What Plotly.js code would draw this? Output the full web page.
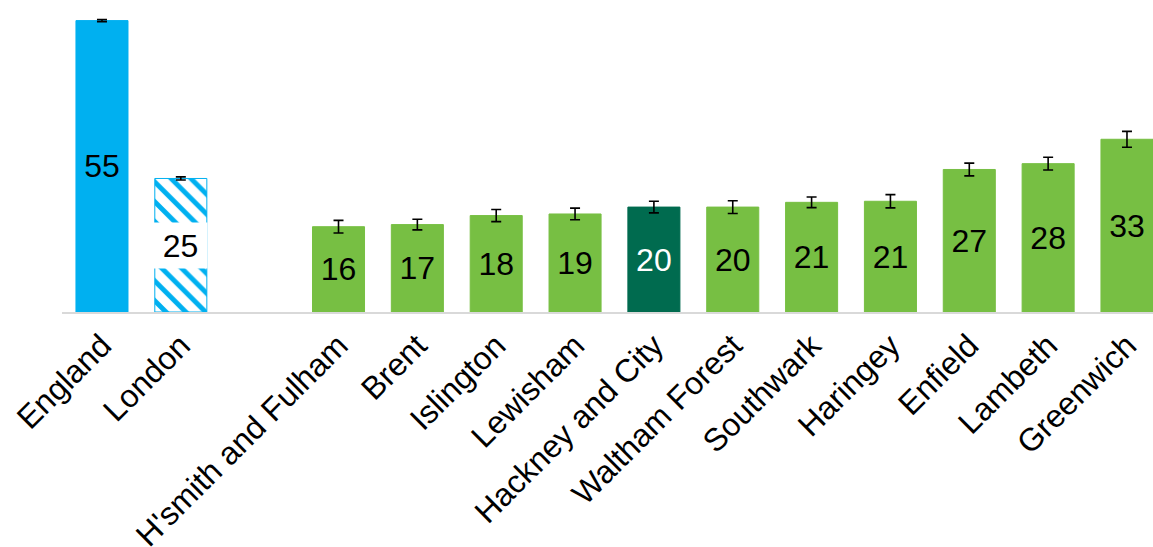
<!DOCTYPE html>
<html>
<head>
<meta charset="utf-8">
<script src="https://cdn.plot.ly/plotly-3.0.1.min.js"></script>
<style>html,body{margin:0;padding:0;background:#fff;}#chart{width:1153px;height:547px;}</style>
</head>
<body>
<div id="chart"></div>
<script>
// ---- data ----
const categories = ["England", "London", "", "H'smith and Fulham", "Brent", "Islington", "Lewisham",
  "Hackney and City", "Waltham Forest", "Southwark", "Haringey", "Enfield", "Lambeth", "Greenwich"];
const values = [55, 25.2, null, 16.1, 16.5, 18.2, 18.5, 19.8, 19.8, 20.7, 20.9, 26.9, 28.0, 32.6];
const labels = ["55", "25", "", "16", "17", "18", "19", "20", "20", "21", "21", "27", "28", "33"];
const errors = [0.2, 0.3, null, 1.2, 1.0, 1.15, 1.1, 1.1, 1.2, 1.0, 1.25, 1.2, 1.2, 1.5];

// ---- styling ----
const positions = categories.map((c, i) => i);
const FONT = "Liberation Sans, Arial, sans-serif";
const londonIdx = 1;
const colors = categories.map((c, i) => i <= londonIdx ? "#00B0F0" : (c === "Hackney and City" ? "#006B4F" : "#77BF43"));
const textColors = categories.map(c => c === "Hackney and City" ? "#FFFFFF" : "#000000");
const patternShapes = categories.map((c, i) => i === londonIdx ? "\\" : "");
const barText = labels.map((t, i) => i === londonIdx ? "" : t);

const trace = {
  type: "bar",
  x: positions,
  y: values,
  text: barText,
  textposition: "inside",
  insidetextanchor: "middle",
  textangle: 0,
  constraintext: "none",
  textfont: {family: FONT, size: 32, color: textColors},
  cliponaxis: false,
  marker: {
    color: colors,
    line: {color: colors, width: 1},
    pattern: {shape: patternShapes, bgcolor: "#FFFFFF", size: 14, solidity: 0.35, fillmode: "replace"}
  },
  error_y: {type: "data", array: errors, visible: true, color: "#000000", thickness: 1.6, width: 5},
  hoverinfo: "skip"
};

const layout = {
  width: 1153, height: 547,
  margin: {l: 62, r: 0, t: 10, b: 235},
  paper_bgcolor: "#FFFFFF", plot_bgcolor: "#FFFFFF",
  showlegend: false,
  bargap: 0.34,
  font: {family: FONT, color: "#000000"},
  xaxis: {
    range: [-0.507, 13.33],
    tickvals: positions, ticktext: categories,
    tickangle: -45,
    tickfont: {family: FONT, size: 32, color: "#000000"},
    showline: true, linecolor: "#D9D9D9", linewidth: 2,
    ticks: "", showgrid: false, zeroline: false, automargin: false
  },
  yaxis: {range: [0, 57], visible: false, showgrid: false, zeroline: false},
  annotations: [{
    x: positions[londonIdx], y: values[londonIdx] / 2, xref: "x", yref: "y",
    text: labels[londonIdx], showarrow: false,
    font: {family: FONT, size: 32, color: "#000000"},
    bgcolor: "#FFFFFF", width: 53, height: 45, borderpad: 0
  }]
};

Plotly.newPlot("chart", [trace], layout, {staticPlot: true, displayModeBar: false});
</script>
</body>
</html>
